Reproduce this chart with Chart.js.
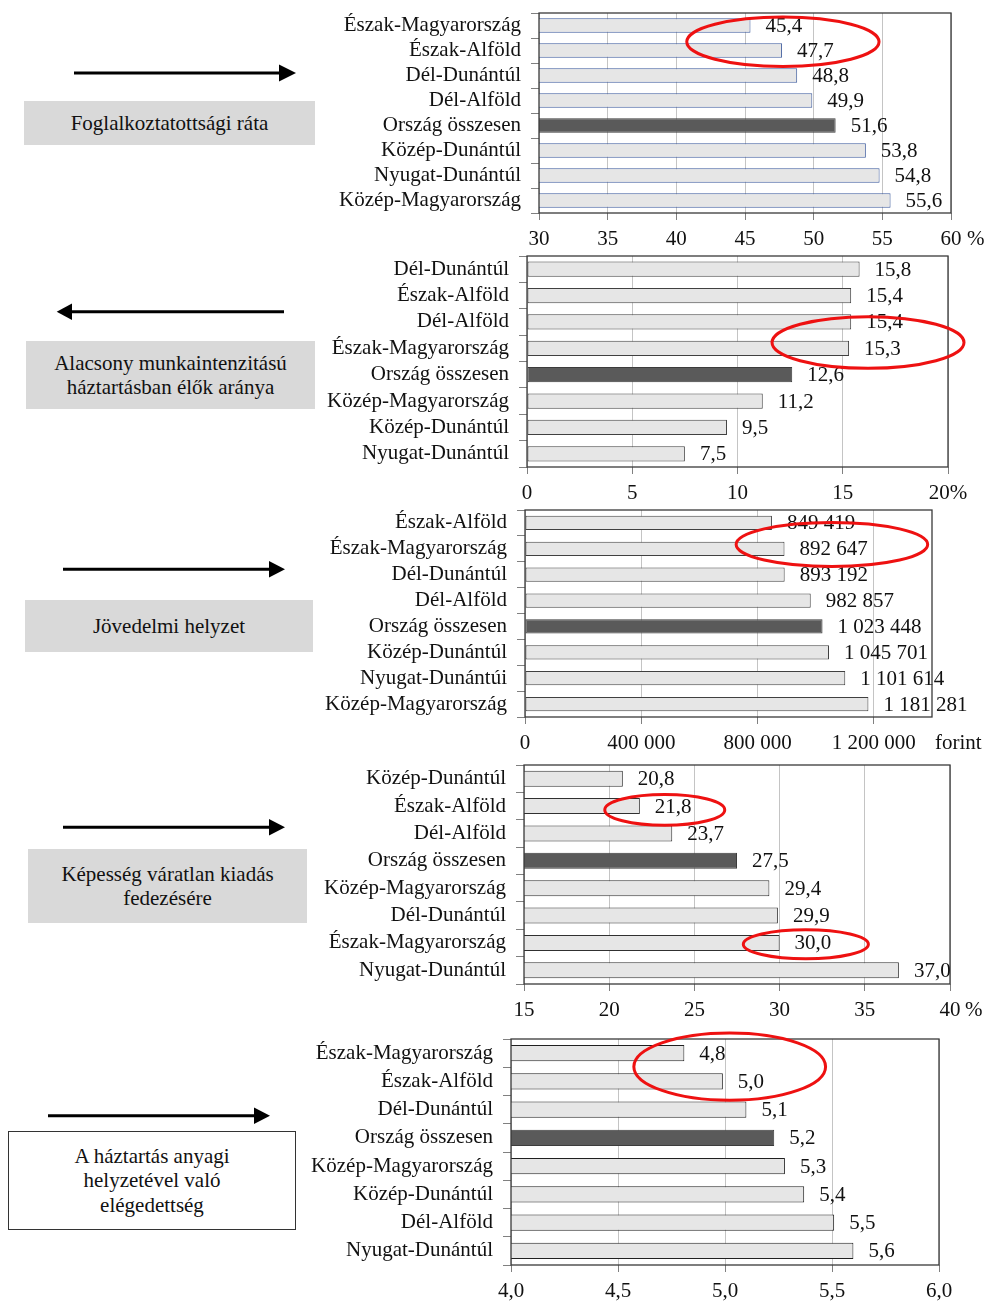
<!DOCTYPE html>
<html><head><meta charset="utf-8">
<script src="https://cdn.jsdelivr.net/npm/chart.js@4.4.0/dist/chart.umd.min.js"></script>
<style>
html,body{margin:0;padding:0;background:#fff;}
body{width:986px;height:1301px;position:relative;overflow:hidden;font-family:"Liberation Serif","Times New Roman",serif;color:#111;}
.box{position:absolute;display:flex;align-items:center;justify-content:center;text-align:center;font-size:21px;line-height:24.5px;box-sizing:border-box;}
.gray{background:#d9d9d9;}
.white{background:#fff;border:1.5px solid #333;}
.cw{position:absolute;left:0;width:986px;}
svg{position:absolute;left:0;top:0;}
</style></head><body>

<svg width="330" height="1301" viewBox="0 0 330 1301">
  <g stroke="#000" stroke-width="3">
    <line x1="74" y1="73" x2="282" y2="73"/>
    <line x1="70" y1="311.7" x2="284" y2="311.7"/>
    <line x1="63" y1="569.3" x2="271" y2="569.3"/>
    <line x1="63" y1="827.3" x2="271" y2="827.3"/>
    <line x1="48" y1="1115.7" x2="256" y2="1115.7"/>
  </g>
  <g fill="#000">
    <polygon points="279,64.5 296,73 279,81.5"/>
    <polygon points="72,303.5 56.7,311.7 72,319.9"/>
    <polygon points="269,561 285,569.3 269,577.6"/>
    <polygon points="269,819 285,827.3 269,835.6"/>
    <polygon points="254,1107.5 270,1115.7 254,1124"/>
  </g>
</svg>

<div class="box gray" style="left:24px;top:101px;width:291px;height:44px;">Foglalkoztatottsági ráta</div>
<div class="box gray" style="left:26px;top:341px;width:289px;height:68px;">Alacsony munkaintenzitású<br>háztartásban élők aránya</div>
<div class="box gray" style="left:25px;top:600px;width:288px;height:52px;">Jövedelmi helyzet</div>
<div class="box gray" style="left:28px;top:849px;width:279px;height:74px;">Képesség váratlan kiadás<br>fedezésére</div>
<div class="box white" style="left:8px;top:1131px;width:288px;height:99px;">A háztartás anyagi<br>helyzetével való<br>elégedettség</div>

<div class="cw" style="top:0px;height:252px;"><canvas id="c1"></canvas></div>
<div class="cw" style="top:252px;height:253px;"><canvas id="c2"></canvas></div>
<div class="cw" style="top:505px;height:255px;"><canvas id="c3"></canvas></div>
<div class="cw" style="top:760px;height:270px;"><canvas id="c4"></canvas></div>
<div class="cw" style="top:1030px;height:271px;"><canvas id="c5"></canvas></div>

<script>
// ---------------- DATA ----------------
const cats1 = ['Észak-Magyarország','Észak-Alföld','Dél-Dunántúl','Dél-Alföld','Ország összesen','Közép-Dunántúl','Nyugat-Dunántúl','Közép-Magyarország'];
const vals1 = [45.4, 47.7, 48.8, 49.9, 51.6, 53.8, 54.8, 55.6];
const tickVals1 = [30, 35, 40, 45, 50, 55, 60];
const ticks1 = ['30','35','40','45','50','55','60'];

const cats2 = ['Dél-Dunántúl','Észak-Alföld','Dél-Alföld','Észak-Magyarország','Ország összesen','Közép-Magyarország','Közép-Dunántúl','Nyugat-Dunántúl'];
const vals2 = [15.8, 15.4, 15.4, 15.3, 12.6, 11.2, 9.5, 7.5];
const tickVals2 = [0, 5, 10, 15, 20];
const ticks2 = ['0','5','10','15','20%'];

const cats3 = ['Észak-Alföld','Észak-Magyarország','Dél-Dunántúl','Dél-Alföld','Ország összesen','Közép-Dunántúl','Nyugat-Dunántúi','Közép-Magyarország'];
const vals3 = [849419, 892647, 893192, 982857, 1023448, 1045701, 1101614, 1181281];
const tickVals3 = [0, 400000, 800000, 1200000];
const ticks3 = ['0','400 000','800 000','1 200 000'];

const cats4 = ['Közép-Dunántúl','Észak-Alföld','Dél-Alföld','Ország összesen','Közép-Magyarország','Dél-Dunántúl','Észak-Magyarország','Nyugat-Dunántúl'];
const vals4 = [20.8, 21.8, 23.7, 27.5, 29.4, 29.9, 30.0, 37.0];
const tickVals4 = [15, 20, 25, 30, 35, 40];
const ticks4 = ['15','20','25','30','35','40'];

const cats5 = ['Észak-Magyarország','Észak-Alföld','Dél-Dunántúl','Ország összesen','Közép-Magyarország','Közép-Dunántúl','Dél-Alföld','Nyugat-Dunántúl'];
const vals5 = [4.81, 4.99, 5.10, 5.23, 5.28, 5.37, 5.51, 5.60];
const tickVals5 = [4, 4.5, 5, 5.5, 6];
const ticks5 = ['4,0','4,5','5,0','5,5','6,0'];

const TOTAL = 'Ország összesen';

// ---------------- STYLE / LAYOUT ----------------
const FAM = '"Liberation Serif", "Times New Roman", serif';
const FS = 21;
const dec1 = v => v.toFixed(1).replace('.', ',');
const thousands = v => String(v).replace(/\B(?=(\d{3})+(?!\d))/g, ' ');

const overlay = {
  id: 'overlay',
  afterDatasetsDraw(chart, args, o) {
    const ctx = chart.ctx, ca = chart.chartArea;
    const xs = chart.scales.x, ys = chart.scales.y;
    ctx.save();
    ctx.strokeStyle = o.frameColor; ctx.lineWidth = 1.3;
    ctx.strokeRect(ca.left, ca.top, ca.right - ca.left, ca.bottom - ca.top);
    ctx.font = FS + 'px ' + FAM; ctx.fillStyle = '#111';
    ctx.textBaseline = 'middle'; ctx.textAlign = 'left';
    const meta = chart.getDatasetMeta(0);
    const d = chart.data.datasets[0].data;
    meta.data.forEach((bar, i) => ctx.fillText(o.fmt(d[i]), bar.x + 15, bar.y + 1));
    ctx.strokeStyle = '#ee1111'; ctx.lineWidth = 3;
    const rowH = ys.getPixelForValue(1) - ys.getPixelForValue(0);
    (o.ellipses || []).forEach(e => {
      const cx = xs.getPixelForValue(e.x);
      const rx = Math.abs(xs.getPixelForValue(e.x + e.rx) - cx);
      const cy = ys.getPixelForValue(e.y);
      ctx.beginPath(); ctx.ellipse(cx, cy, rx, e.ry * rowH, 0, 0, Math.PI * 2); ctx.stroke();
    });
    if (o.unit) {
      let y = ca.bottom + 25, base = 'middle';
      try {
        const items = xs.getLabelItems();
        const it = items[items.length - 1];
        y = it.options.translation[1] + (it.textOffset || 0);
        base = it.options.textBaseline || 'middle';
      } catch (err) {}
      ctx.textBaseline = base; ctx.textAlign = 'left';
      ctx.fillText(o.unit, xs.right + o.unitDx, y);
    }
    ctx.restore();
  }
};

function makeChart(id, g, cats, vals, ax, tickVals, tickLabels, fmt, edge, barPct, ellipses, unit, unitDx) {
  const H = g.h;
  new Chart(document.getElementById(id), {
    type: 'bar',
    data: {
      labels: cats,
      datasets: [{
        data: vals,
        backgroundColor: cats.map(c => c === TOTAL ? '#5a5a5a' : '#e6e6e6'),
        borderColor: cats.map(c => c === TOTAL ? '#3c3c3c' : edge),
        borderWidth: 1,
        borderSkipped: false,
        barPercentage: barPct,
        categoryPercentage: 1
      }]
    },
    plugins: [overlay],
    options: {
      indexAxis: 'y',
      responsive: true,
      maintainAspectRatio: false,
      animation: false,
      layout: { padding: { top: g.pt - g.top, right: 986 - g.pr, bottom: 0, left: 0 } },
      plugins: {
        legend: { display: false }, tooltip: { enabled: false },
        overlay: { fmt, frameColor: '#3a3a3a', ellipses, unit, unitDx }
      },
      scales: {
        x: {
          type: 'linear', min: ax.min, max: ax.max,
          afterBuildTicks: s => { s.ticks = tickVals.map(v => ({ value: v })); },
          afterFit: s => { s.height = g.top + H - g.pb; s.paddingLeft = 0; s.paddingRight = 0; },
          ticks: { autoSkip: false, maxRotation: 0, padding: 7, color: '#111',
                   font: { family: FAM, size: FS },
                   callback: (v, i) => tickLabels[i] !== undefined ? tickLabels[i] : '' },
          grid: { color: '#c4c4c4', lineWidth: 1, drawTicks: true, tickLength: 7, tickColor: '#808080' },
          border: { display: false }
        },
        y: {
          afterFit: s => { s.width = g.pl; s.paddingTop = 0; s.paddingBottom = 0; },
          ticks: { autoSkip: false, padding: 10, color: '#111', font: { family: FAM, size: FS } },
          grid: { drawOnChartArea: false, drawTicks: true, tickLength: 8, tickColor: '#808080', offset: true },
          border: { display: false }
        }
      }
    }
  });
}

makeChart('c1', {top:0, h:252, pt:13, pb:213, pl:539, pr:951}, cats1, vals1,
  {min:30, max:60}, tickVals1, ticks1, dec1, '#3c5a9c', 0.58,
  [{x:47.76, y:0.65, rx:7.0, ry:0.99}], '%', 16);

makeChart('c2', {top:252, h:253, pt:256, pb:467, pl:527, pr:948}, cats2, vals2,
  {min:0, max:20}, tickVals2, ticks2, dec1, '#404040', 0.58,
  [{x:16.2, y:2.78, rx:4.56, ry:0.98}], null, 0);

makeChart('c3', {top:505, h:255, pt:510, pb:717, pl:525, pr:932}, cats3, vals3,
  {min:0, max:1400000}, tickVals3, ticks3, thousands, '#404040', 0.55,
  [{x:1055700, y:0.83, rx:329400, ry:0.85}], 'forint', 3);

makeChart('c4', {top:760, h:270, pt:765, pb:984, pl:524, pr:950}, cats4, vals4,
  {min:15, max:40}, tickVals4, ticks4, dec1, '#303030', 0.58,
  [{x:23.26, y:1.14, rx:3.52, ry:0.56}, {x:31.54, y:6.05, rx:3.67, ry:0.53}], '%', 15);

makeChart('c5', {top:1030, h:271, pt:1039, pb:1265, pl:511, pr:939}, cats5, vals5,
  {min:4, max:6}, tickVals5, ticks5, dec1, '#202020', 0.58,
  [{x:5.022, y:0.48, rx:0.448, ry:1.19}], null, 0);
</script>
</body></html>
